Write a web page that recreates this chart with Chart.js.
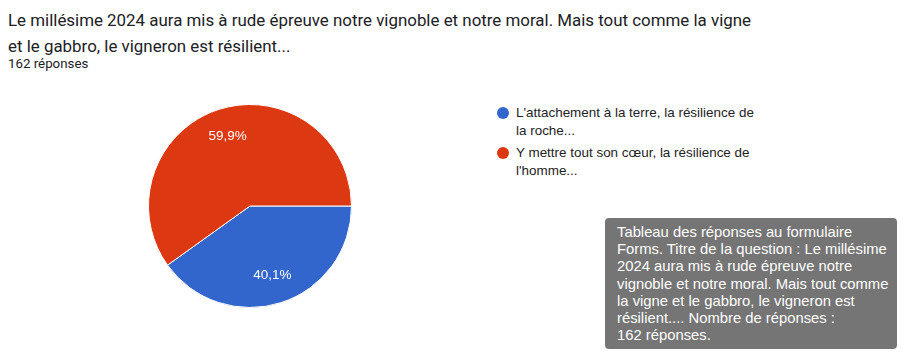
<!DOCTYPE html>
<html>
<head>
<meta charset="utf-8">
<script src="https://cdn.jsdelivr.net/npm/chart.js@4.4.0/dist/chart.umd.min.js"></script>
<style>
  html, body { margin: 0; padding: 0; background: #fff; }
  body { width: 905px; height: 354px; position: relative; overflow: hidden; }
  #title { position: absolute; left: 8px; top: 7px; font-family: Roboto, Arial, sans-serif; font-size: 16.9px; line-height: 26px; color: #202124; white-space: nowrap; }
  #count { position: absolute; left: 8px; top: 56px; font-family: Roboto, Arial, sans-serif; font-size: 13.3px; color: #202124; }
  #pieBox { position: absolute; left: 148px; top: 104px; width: 204px; height: 204px; }
  #legend { position: absolute; left: 496px; top: 104px; width: 270px; font-family: "Liberation Sans", Arial, sans-serif; font-size: 13.45px; line-height: 18px; color: #222; }
  .li { position: relative; padding-left: 20px; margin-bottom: 4px; }
  .dot { position: absolute; left: 1px; top: 3px; width: 12px; height: 12px; border-radius: 50%; }
  #tip { position: absolute; left: 605px; top: 218px; width: 292px; height: 131px; box-sizing: border-box; padding: 6px 0 0 12px; background: #757575; border-radius: 4px; color: #fff; font-family: "Liberation Sans", Arial, sans-serif; font-size: 14.8px; line-height: 17.2px; white-space: nowrap; overflow: hidden; }
</style>
</head>
<body>
<div id="title"></div>
<div id="count"></div>
<div id="pieBox"><canvas id="c"></canvas></div>
<div id="legend"></div>
<div id="tip"></div>
<script>
const titleLines = [
  "Le millésime 2024 aura mis à rude épreuve notre vignoble et notre moral. Mais tout comme la vigne",
  "et le gabbro, le vigneron est résilient..."
];
const responseCount = "162 réponses";
const categories = [
  "L'attachement à la terre, la résilience de la roche...",
  "Y mettre tout son cœur, la résilience de l'homme..."
];
const percentages = [40.1, 59.9];
const percentLabels = ["40,1%", "59,9%"];
const colors = ["#3366cc", "#dc3912"];
const tooltipLines = [
  "Tableau des réponses au formulaire",
  "Forms. Titre de la question : Le millésime",
  "2024 aura mis à rude épreuve notre",
  "vignoble et notre moral. Mais tout comme",
  "la vigne et le gabbro, le vigneron est",
  "résilient.... Nombre de réponses :",
  "162 réponses."
];

const title = document.getElementById('title');
titleLines.forEach(l => { const d = document.createElement('div'); d.textContent = l; title.appendChild(d); });
document.getElementById('count').textContent = responseCount;
const tip = document.getElementById('tip');
tooltipLines.forEach(l => { const d = document.createElement('div'); d.textContent = l; tip.appendChild(d); });
const legend = document.getElementById('legend');
categories.forEach((c, i) => {
  const d = document.createElement('div');
  d.className = 'li';
  d.innerHTML = '<span class="dot" style="background:' + colors[i] + '"></span>';
  d.appendChild(document.createTextNode(c));
  legend.appendChild(d);
});

const sliceLabels = {
  id: 'sliceLabels',
  afterDatasetsDraw(chart) {
    const ctx = chart.ctx;
    const meta = chart.getDatasetMeta(0);
    ctx.save();
    ctx.fillStyle = '#ffffff';
    ctx.font = '13.5px "Liberation Sans", Arial, sans-serif';
    ctx.textAlign = 'center';
    ctx.textBaseline = 'middle';
    meta.data.forEach((arc, i) => {
      const p = arc.getProps(['x', 'y', 'startAngle', 'endAngle', 'outerRadius'], true);
      const mid = (p.startAngle + p.endAngle) / 2;
      const r = p.outerRadius * 0.72;
      ctx.fillText(percentLabels[i], p.x + Math.cos(mid) * r, p.y + Math.sin(mid) * r);
    });
    ctx.restore();
  }
};

new Chart(document.getElementById('c'), {
  type: 'pie',
  data: {
    labels: categories,
    datasets: [{
      data: percentages,
      backgroundColor: colors,
      borderColor: '#ffffff',
      borderWidth: 1
    }]
  },
  options: {
    responsive: true,
    maintainAspectRatio: false,
    animation: false,
    rotation: 90,
    layout: { padding: 0 },
    plugins: { legend: { display: false }, tooltip: { enabled: false } }
  },
  plugins: [sliceLabels]
});
</script>
</body>
</html>
